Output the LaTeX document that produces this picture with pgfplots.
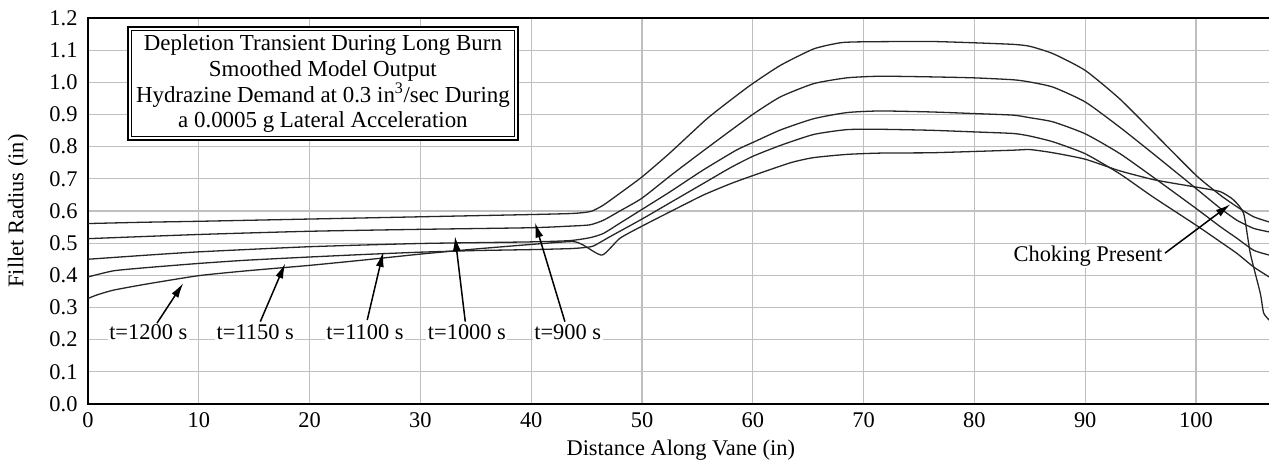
\documentclass[border=0pt]{standalone}
\usepackage{fontspec}
\setmainfont{Liberation Serif}
\usepackage{pgfplots}
\pgfplotsset{compat=1.18}
\usepackage{pgfplotstable}
\usetikzlibrary{arrows.meta}

\newcommand\fs{\fontsize{22.5}{27}\selectfont}

\pgfplotstableread{
x y
0 0.561
5 0.565
10 0.568
20 0.575
30 0.582
40 0.589
43.5 0.592
44.7 0.595
45.5 0.600
46.5 0.618
48 0.655
50 0.706
52.5 0.780
55.8 0.885
58 0.945
59.9 0.994
62.5 1.053
65.5 1.104
67.9 1.123
70 1.126
76 1.127
79.9 1.123
83.5 1.118
85 1.112
87.1 1.089
90 1.037
93.1 0.949
96.1 0.846
100 0.711
102.2 0.649
103.7 0.613
105.2 0.582
106.6 0.566
}\tA

\pgfplotstableread{
x y
0 0.514
10 0.527
20 0.537
30 0.543
40 0.548
43.5 0.553
45.3 0.557
46.5 0.571
48 0.600
50 0.640
52.8 0.716
55.8 0.794
59.9 0.898
62.5 0.955
65.5 0.996
68.5 1.014
71.5 1.019
76 1.017
79.9 1.014
83.5 1.008
85 1.001
87.1 0.985
90 0.939
93.1 0.861
96.1 0.779
100 0.670
102.2 0.608
103.7 0.571
105.2 0.546
106.6 0.535
}\tB

\pgfplotstableread{
x y
0 0.450
5 0.462
10 0.473
20 0.489
30 0.499
40 0.504
43.5 0.508
45.3 0.517
46.5 0.530
48 0.562
50 0.605
52.5 0.659
55.5 0.727
58.5 0.789
60 0.813
62.5 0.852
65.5 0.887
68.5 0.906
71.5 0.911
76 0.908
79.9 0.903
83.5 0.898
85 0.890
87.1 0.877
90 0.840
93.1 0.779
96.1 0.706
100 0.608
102.2 0.551
103.7 0.515
105.2 0.478
106.6 0.463
}\tC

\pgfplotstableread{
x y
0 0.395
2.3 0.414
5.3 0.424
10 0.437
14.3 0.447
20 0.457
25 0.465
30 0.472
35 0.477
40 0.480
43.5 0.483
44.7 0.486
45.6 0.491
47.1 0.520
50 0.575
52.5 0.625
55.5 0.685
58 0.735
60 0.770
62.5 0.804
65.5 0.838
68.5 0.853
71.5 0.854
76 0.851
79.9 0.846
83.5 0.841
85 0.833
87.1 0.815
90 0.778
93.1 0.716
96.1 0.644
100 0.556
102.2 0.504
103.7 0.468
105.2 0.426
106.6 0.395
}\tD

\pgfplotstableread{
x y
0 0.328
0.8 0.339
2.3 0.354
5.3 0.373
10 0.399
14.3 0.414
20 0.431
25 0.448
30 0.466
35 0.482
40 0.496
43.7 0.505
44.7 0.494
46.4 0.463
48 0.515
50 0.553
52.5 0.597
55.5 0.649
58 0.685
60 0.710
63.4 0.750
65.5 0.766
68.5 0.776
71.5 0.780
76 0.781
79.9 0.785
83.5 0.789
85 0.791
87.1 0.781
90 0.761
93.1 0.725
96.1 0.698
98 0.686
100.4 0.672
102.2 0.660
103.4 0.634
104.3 0.592
104.9 0.468
105.8 0.344
106.1 0.283
106.6 0.261
}\tE

\begin{document}
\begin{tikzpicture}
\begin{axis}[
  scale only axis, width=1185.6bp, height=386bp,
  xmin=0, xmax=107, ymin=0, ymax=1.2,
  xtick={0,10,20,30,40,50,60,70,80,90,100},
  ytick={0,0.1,0.2,0.3,0.4,0.5,0.6,0.7,0.8,0.9,1.0,1.1,1.2},
  grid=major, major grid style={color=black!25, line width=1.2bp},
  axis line style={line width=2.2bp},
  major tick length=0pt,
  tick label style={font=\fs},
  xticklabel style={yshift=-5bp},
  /pgf/number format/assume math mode=true,
  yticklabel style={xshift=-7bp, /pgf/number format/fixed, /pgf/number format/fixed zerofill, /pgf/number format/precision=1},
  xlabel={Distance Along Vane (in)}, ylabel={Fillet Radius (in)},
  every axis x label/.style={at={(axis description cs:0.5,0)}, anchor=center, yshift=-46bp, font=\fs},
  every axis y label/.style={at={(axis description cs:-0.059,0.5)}, anchor=center, rotate=90, font=\fs},
  curve/.style={black!85, line width=1.3bp, smooth, tension=0.35, mark=none},
]
\addplot[curve] table[x=x,y=y]{\tA};
\addplot[curve] table[x=x,y=y]{\tB};
\addplot[curve] table[x=x,y=y]{\tC};
\addplot[curve] table[x=x,y=y]{\tD};
\addplot[curve] table[x=x,y=y]{\tE};

\draw[fill=white, line width=2.5bp] (axis cs:3.61,1.172) rectangle (axis cs:38.81,0.821);
\draw[line width=1bp] (axis cs:3.93,1.161) rectangle (axis cs:38.49,0.832);
\node[align=center, inner sep=0, font=\fontsize{23}{26}\selectfont] at (axis cs:21.2,0.996)
  {Depletion Transient During Long Burn\\Smoothed Model Output\\Hydrazine Demand at 0.3 in\textsuperscript{3}/sec During\\a 0.0005 g Lateral Acceleration};

\tikzset{lab/.style={font=\fs, fill=white, inner sep=1.5bp, anchor=base}, arr/.style={black, line width=1.5bp, -{Latex[length=15bp,width=8bp]}}}
\node[lab] at (axis cs:5.44,0.2) {t=1200 s};
\node[lab] at (axis cs:15.1,0.2) {t=1150 s};
\node[lab] at (axis cs:25.0,0.2) {t=1100 s};
\node[lab] at (axis cs:34.2,0.2) {t=1000 s};
\node[lab] at (axis cs:43.3,0.2) {t=900 s};
\draw[arr] (axis cs:6.22,0.251) -- (axis cs:8.6,0.376);
\draw[arr] (axis cs:15.55,0.256) -- (axis cs:17.8,0.437);
\draw[arr] (axis cs:25.2,0.261) -- (axis cs:26.65,0.473);
\draw[arr] (axis cs:34.05,0.256) -- (axis cs:33.12,0.522);
\draw[arr] (axis cs:43.04,0.256) -- (axis cs:40.34,0.564);
\node[font=\fs, fill=white, inner sep=1.5bp, anchor=base] at (axis cs:90.25,0.442) {Choking Present};
\draw[arr] (axis cs:97.2,0.469) -- (axis cs:103.1,0.621);
\end{axis}
\pgfresetboundingbox
\path[use as bounding box] (current axis.south west) ++(-88bp,-66bp) rectangle ++(1269bp,470bp);
\end{tikzpicture}
\end{document}
